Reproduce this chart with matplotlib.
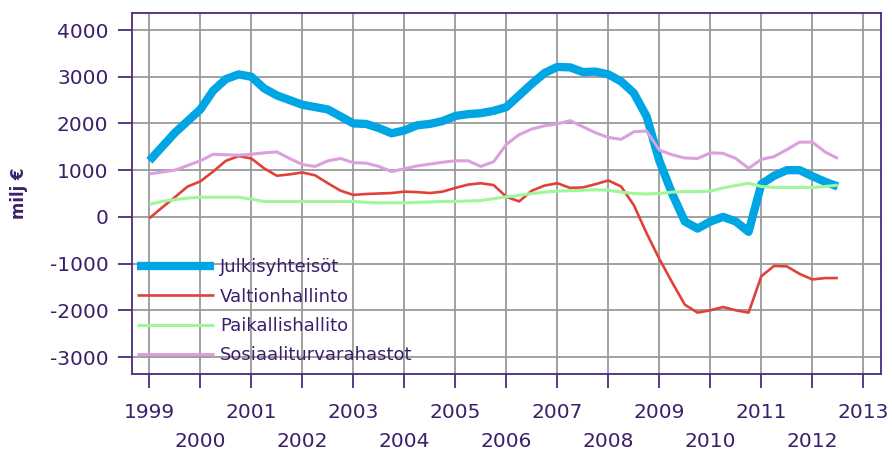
"""Public sector net lending by subsector, quarterly (milj €)."""

import numpy as np
import pandas as pd
import matplotlib
matplotlib.use("Agg")
import matplotlib.pyplot as plt

quarters = pd.period_range("1999Q1", "2012Q3", freq="Q")

julkisyhteisot = [
    1200, 1500, 1800, 2050, 2300, 2700, 2950, 3050,
    3000, 2750, 2600, 2500, 2400, 2350, 2300, 2150,
    2000, 1990, 1900, 1790, 1850, 1960, 1990, 2050,
    2160, 2200, 2220, 2270, 2350, 2600, 2850, 3080,
    3210, 3200, 3100, 3110, 3050, 2900, 2650, 2150,
    1200, 500, -100, -250, -100, 0, -100, -320,
    700, 880, 1000, 1000, 870, 750, 650,
]
valtionhallinto = [
    -30, 200, 420, 650, 760, 970, 1200, 1300,
    1250, 1040, 880, 910, 950, 890, 720, 560,
    470, 490, 500, 510, 540, 530, 510, 540,
    620, 690, 720, 680, 430, 330, 560, 670,
    720, 620, 630, 700, 780, 650, 250, -350,
    -900, -1400, -1880, -2050, -2000, -1930, -2000, -2050,
    -1270, -1050, -1060, -1220, -1340, -1310, -1310,
]
paikallishallinto = [
    270, 330, 370, 400, 420, 420, 420, 420,
    380, 330, 330, 330, 330, 330, 330, 330,
    330, 310, 300, 300, 300, 310, 320, 330,
    330, 340, 350, 390, 430, 460, 500, 530,
    550, 560, 570, 580, 570, 530, 500, 490,
    500, 530, 540, 540, 550, 620, 670, 720,
    650, 630, 630, 630, 630, 650, 680,
]
sosiaaliturva = [
    920, 960, 1000, 1100, 1200, 1340, 1330, 1320,
    1340, 1370, 1390, 1250, 1120, 1080, 1200, 1250,
    1160, 1150, 1080, 970, 1030, 1090, 1130, 1170,
    1200, 1200, 1080, 1180, 1550, 1760, 1880, 1950,
    1990, 2060, 1930, 1800, 1700, 1660, 1820, 1840,
    1430, 1330, 1260, 1250, 1370, 1360, 1250, 1040,
    1230, 1290, 1440, 1600, 1600, 1390, 1250,
]

series_names = ["Julkisyhteisöt", "Valtionhallinto", "Paikallishallito", "Sosiaaliturvarahastot"]
odd_years = [1999, 2001, 2003, 2005, 2007, 2009, 2011, 2013]
even_years = [2000, 2002, 2004, 2006, 2008, 2010, 2012]
y_ticks = [-3000, -2000, -1000, 0, 1000, 2000, 3000, 4000]

TEXT = "#3b1f6b"
FRAME = "#4a2a7e"
GRID = "#9a9a9a"

x = np.array([q.year + (q.quarter - 1) / 4 for q in quarters])

fig = plt.figure(figsize=(8.92, 4.55), dpi=100)
ax = fig.add_axes([0.148, 0.178, 0.8393, 0.7934])

styles = [
    dict(color="#00a6e4", lw=6.0),
    dict(color="#e0413a", lw=1.9),
    dict(color="#9ff79a", lw=2.2),
    dict(color="#dca0de", lw=2.2),
]
for vals, name, st in zip([julkisyhteisot, valtionhallinto, paikallishallinto, sosiaaliturva],
                          series_names, styles):
    ax.plot(x, vals, label=name, solid_capstyle="butt", **st)

ax.set_xlim(1998.66, 2013.34)
ax.set_ylim(-3364, 4364)
ax.set_yticks(y_ticks)
ax.set_yticklabels([str(v) for v in y_ticks])
ax.set_xticks(odd_years)
ax.set_xticklabels([str(v) for v in odd_years])
ax.set_xticks(even_years, minor=True)
ax.set_xticklabels([str(v) for v in even_years], minor=True)

ax.grid(True, which="both", color=GRID, lw=1.3)
ax.set_axisbelow(True)
ax.tick_params(axis="both", which="both", direction="out", length=10, width=1.3,
               color=FRAME, labelcolor=TEXT, labelsize=14.5)
ax.tick_params(axis="x", which="major", pad=11)
ax.tick_params(axis="x", which="minor", pad=31.5)
ax.tick_params(axis="y", pad=7)
for sp in ax.spines.values():
    sp.set_color(FRAME)
    sp.set_linewidth(1.3)

ax.set_ylabel("milj €", color=TEXT, fontsize=12, fontweight="bold")
ax.yaxis.set_label_coords(-0.139, 0.5)

leg = ax.legend(loc="upper left", bbox_to_anchor=(-0.008, 0.35), frameon=False,
                fontsize=13, handlelength=4.3, handletextpad=0.3,
                labelspacing=0.62, borderaxespad=0.2)
for t in leg.get_texts():
    t.set_color(TEXT)

fig.savefig("out.png", dpi=100)
